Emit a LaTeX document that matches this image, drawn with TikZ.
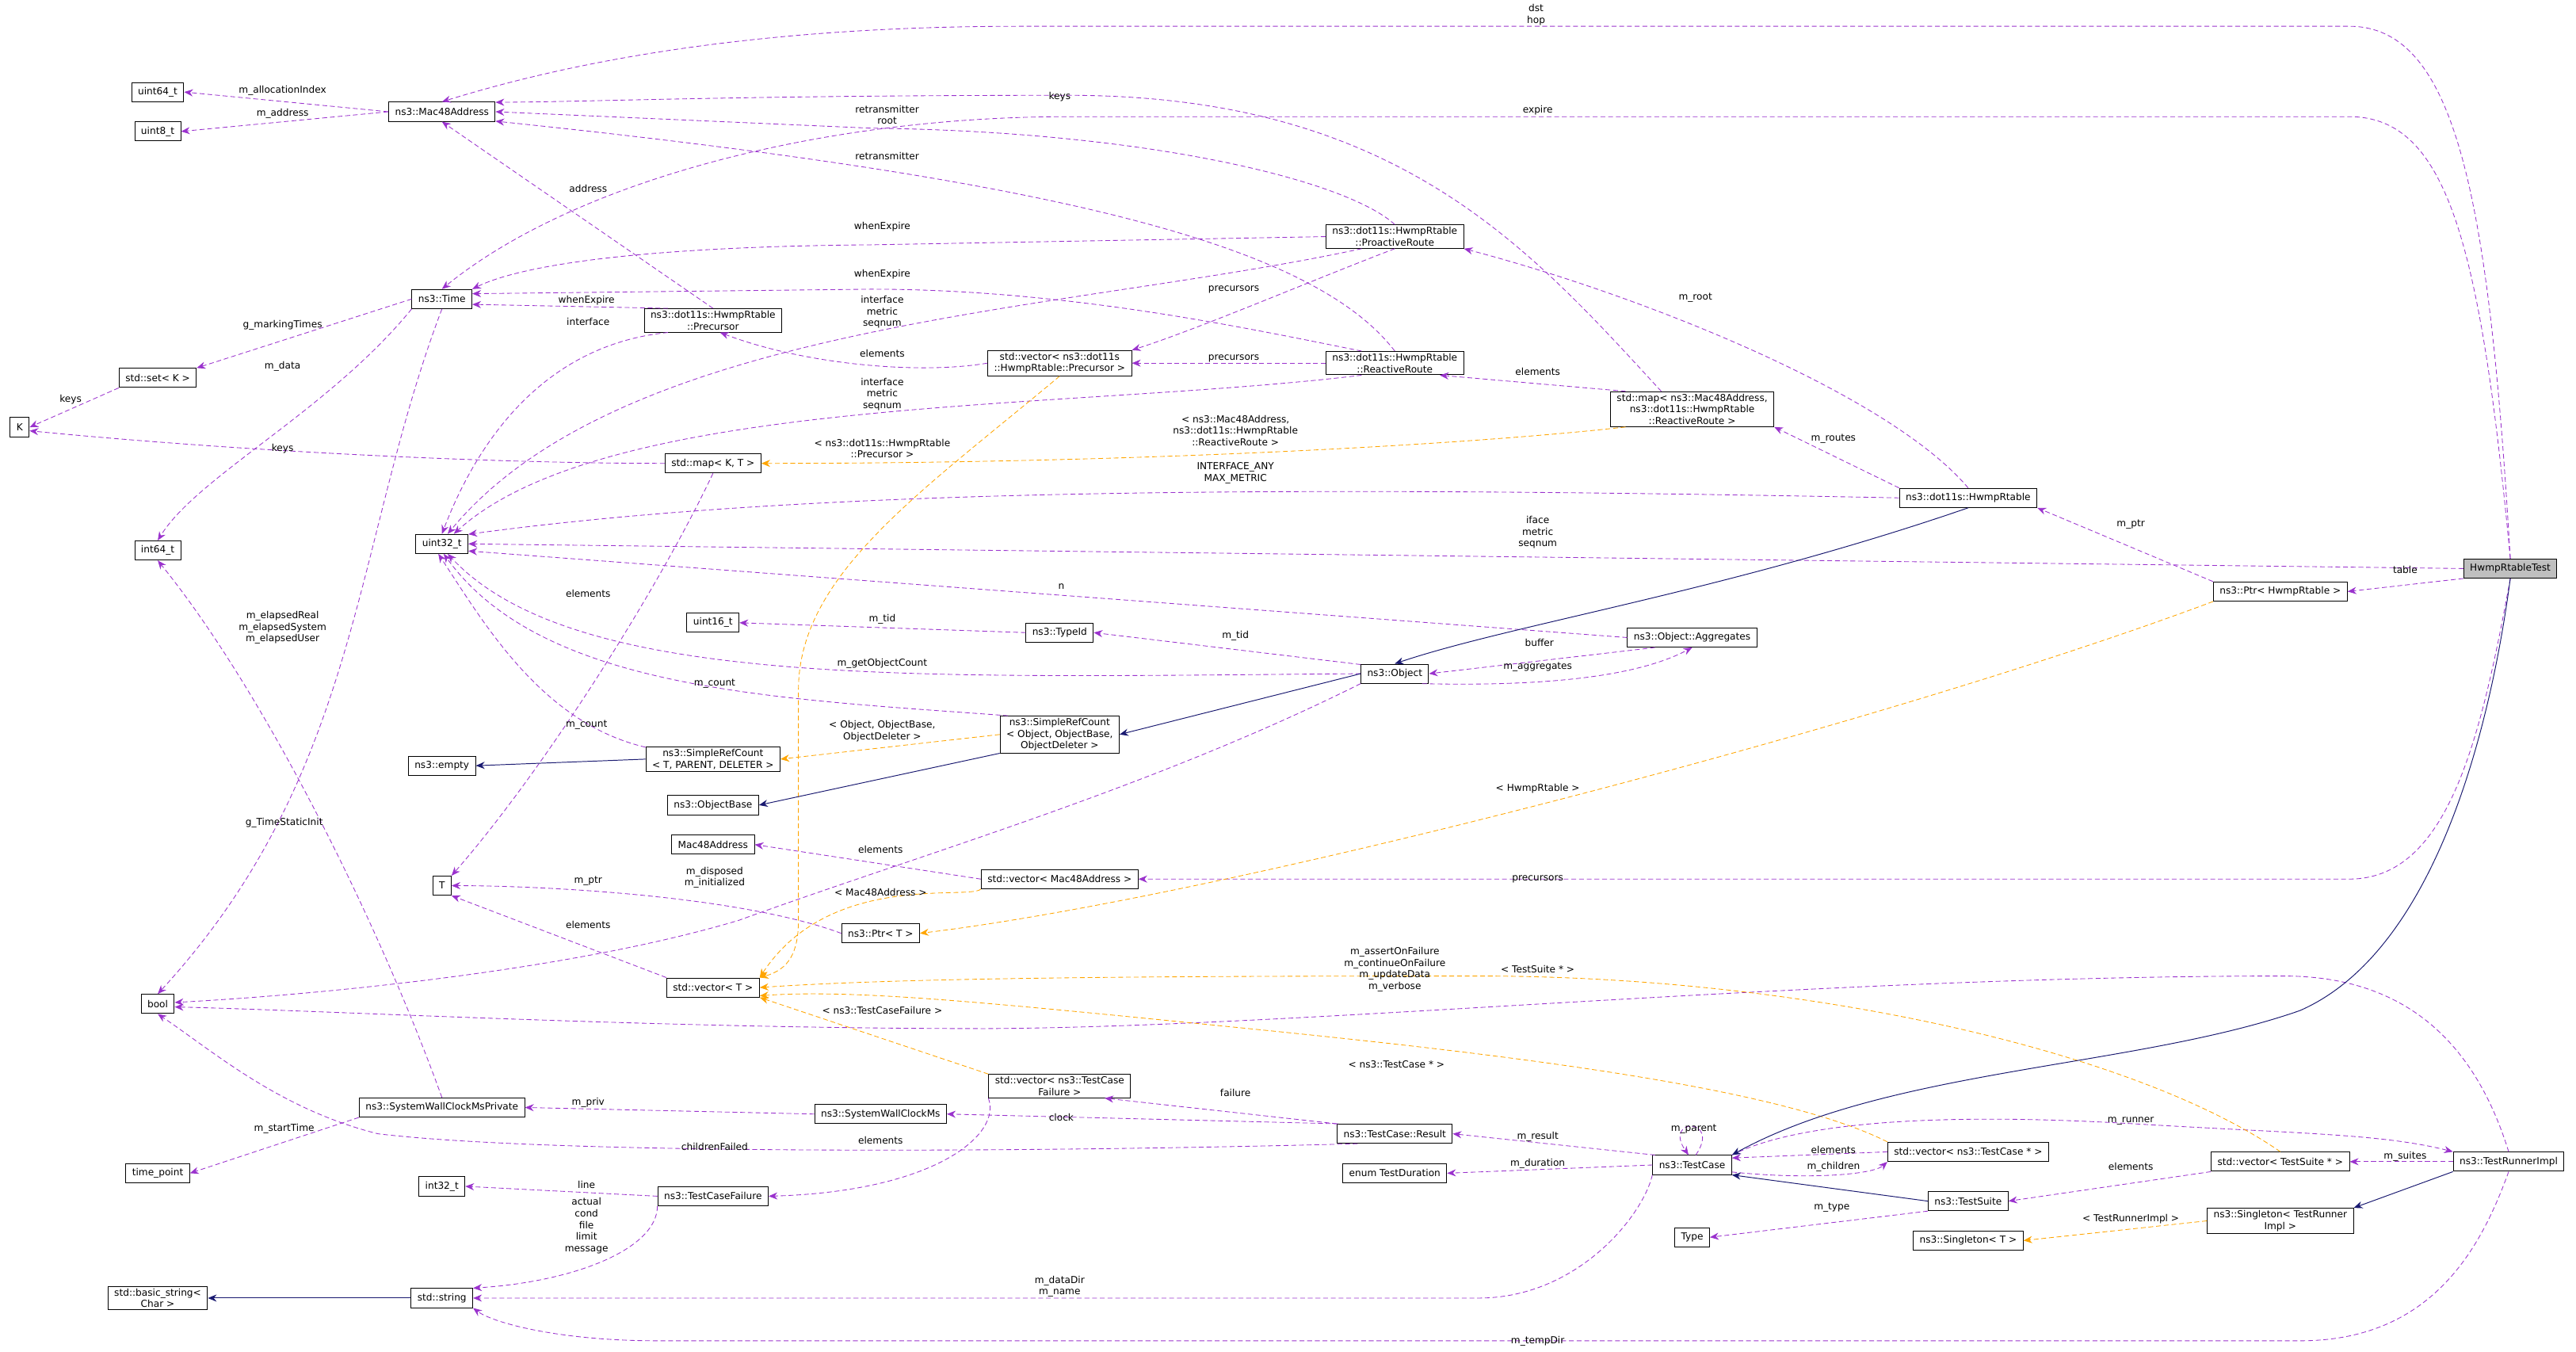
\documentclass[tikz,border=0pt]{standalone}
\usepackage{fontspec}
\setmainfont{DejaVu Sans}
\usetikzlibrary{arrows.meta}
\definecolor{mp}{HTML}{9A32CD}
\definecolor{og}{HTML}{FFA500}
\definecolor{nv}{HTML}{191970}
\begin{document}
\begin{tikzpicture}[x=0.6mm,y=-0.6mm,
  box/.style={draw=black,line width=0.8pt,fill=white,inner xsep=2.3mm,inner ysep=0.8mm,minimum height=7mm,align=center,font=\fontsize{10}{12}\selectfont},
  lbl/.style={inner sep=0pt,align=center,font=\fontsize{10}{12}\selectfont},
  mem/.style={draw=mp,dashed,line width=0.7pt,dash pattern=on 5pt off 3pt,-{Stealth[length=3.2mm,width=2.6mm]}},
  tmpl/.style={draw=og,dashed,line width=0.7pt,dash pattern=on 5pt off 3pt,-{Stealth[length=3.2mm,width=2.6mm]}},
  inh/.style={draw=nv,line width=0.8pt,-{Stealth[length=3.2mm,width=2.6mm]}}]
\useasboundingbox (0,0) rectangle (1568,822.4);
% nodes
\node[box] (u64) at (96,56) {uint64\_t};
\node[box] (u8) at (96,80) {uint8\_t};
\node[box] (mac) at (269,68) {ns3::Mac48Address};
\node[box] (time) at (269,182) {ns3::Time};
\node[box] (prec) at (434,195) {ns3::dot11s::HwmpRtable\\::Precursor};
\node[box] (set) at (96,230) {std::set< K >};
\node[box] (K) at (12,260) {K};
\node[box] (mapkt) at (434,282) {std::map< K, T >};
\node[box] (i64) at (96,335) {int64\_t};
\node[box] (u32) at (269,331) {uint32\_t};
\node[box] (u16) at (434,379) {uint16\_t};
\node[box] (empty) at (269,466) {ns3::empty};
\node[box] (srct) at (434,462) {ns3::SimpleRefCount\\< T, PARENT, DELETER >};
\node[box] (objbase) at (434,490) {ns3::ObjectBase};
\node[box] (macb) at (434,514) {Mac48Address};
\node[box] (T) at (269,539) {T};
\node[box] (vecT) at (434,601) {std::vector< T >};
\node[box] (bool) at (96,611) {bool};
\node[box] (swcmp) at (269,674) {ns3::SystemWallClockMsPrivate};
\node[box] (tp) at (96,714) {time\_point};
\node[box] (i32) at (269,722) {int32\_t};
\node[box] (tcf) at (434,728) {ns3::TestCaseFailure};
\node[box] (basic) at (96,790) {std::basic\_string<\\Char >};
\node[box] (str) at (269,790) {std::string};
\node[box] (typeid) at (645,385) {ns3::TypeId};
\node[box] (srcobj) at (645,447) {ns3::SimpleRefCount\\< Object, ObjectBase,\\ObjectDeleter >};
\node[box] (vecprec) at (645,221) {std::vector< ns3::dot11s\\::HwmpRtable::Precursor >};
\node[box] (vecmac) at (645,535) {std::vector< Mac48Address >};
\node[box] (ptrT) at (536,568) {ns3::Ptr< T >};
\node[box] (vectcf) at (645,661) {std::vector< ns3::TestCase\\Failure >};
\node[box] (swcm) at (536,678) {ns3::SystemWallClockMs};
\node[box] (pro) at (849,144) {ns3::dot11s::HwmpRtable\\::ProactiveRoute};
\node[box] (rr) at (849,221) {ns3::dot11s::HwmpRtable\\::ReactiveRoute};
\node[box] (obj) at (849,410) {ns3::Object};
\node[box] (result) at (849,690) {ns3::TestCase::Result};
\node[box] (enum) at (849,714) {enum TestDuration};
\node[box] (mapmr) at (1030,249) {std::map< ns3::Mac48Address,\\ns3::dot11s::HwmpRtable\\::ReactiveRoute >};
\node[box] (agg) at (1030,388) {ns3::Object::Aggregates};
\node[box] (tc) at (1030,709) {ns3::TestCase};
\node[box] (type) at (1030,753) {Type};
\node[box] (hwmp) at (1198,303) {ns3::dot11s::HwmpRtable};
\node[box] (vectc) at (1198,701) {std::vector< ns3::TestCase * >};
\node[box] (ts) at (1198,731) {ns3::TestSuite};
\node[box] (singT) at (1198,755) {ns3::Singleton< T >};
\node[box] (ptrhr) at (1388,360) {ns3::Ptr< HwmpRtable >};
\node[box] (vects) at (1388,707) {std::vector< TestSuite * >};
\node[box] (singtr) at (1388,743) {ns3::Singleton< TestRunner\\Impl >};
\node[box,fill=black!25] (test) at (1528,346) {HwmpRtableTest};
\node[box] (runner) at (1527,707) {ns3::TestRunnerImpl};
% member edges
\draw[mem] (mac.west) -- (u64.east);
\draw[mem] (mac.west) -- (u8.east);
\draw[mem] (test.north) .. controls (1515,120) and (1495,16) .. (1430,16) -- (620,16) .. controls (450,16) and (340,40) .. (mac.north);
\draw[mem] (test.north) .. controls (1510,150) and (1490,71) .. (1430,71) -- (650,71) .. controls (500,71) and (350,110) .. (time.north);
\draw[mem] (mapmr.150) .. controls (930,150) and (850,58) .. (650,58) .. controls (450,58) and (360,62) .. (mac.10);
\draw[mem] (pro.north) .. controls (820,110) and (700,80) .. (530,78) -- (mac.east);
\draw[mem] (rr.north) .. controls (800,150) and (650,110) .. (mac.-10);
\draw[mem] (pro.west) -- (530,149) .. controls (400,150) and (320,160) .. (time.north east);
\draw[mem] (rr.160) .. controls (760,200) and (650,176) .. (530,176) -- (time.10);
\draw[mem] (prec.165) -- (time.-10);
\draw[mem] (prec.195) .. controls (330,210) and (290,270) .. (u32.north);
\draw[mem] (prec.north) -- (mac.south);
\draw[mem] (time.west) -- (set.north east);
\draw[mem] (set.south west) -- (K.east);
\draw[mem] (mapkt.west) .. controls (300,282) and (150,275) .. (K.-20);
\draw[mem] (time.south west) .. controls (200,250) and (120,290) .. (i64.north);
\draw[mem] (time.south) .. controls (215,330) and (220,470) .. (bool.north);
\draw[mem] (swcmp.north) .. controls (230,560) and (160,420) .. (i64.south);
\draw[mem] (pro.south) .. controls (800,170) and (730,200) .. (vecprec.north east);
\draw[mem] (rr.west) -- (vecprec.east);
\draw[mem] (vecprec.west) .. controls (560,228) and (490,222) .. (prec.-60);
\draw[mem] (pro.200) .. controls (650,190) and (380,195) .. (u32.60);
\draw[mem] (rr.200) .. controls (650,250) and (370,240) .. (u32.40);
\draw[mem] (mapmr.165) -- (rr.-15);
\draw[mem] (hwmp.north) .. controls (1150,240) and (1000,180) .. (pro.south east);
\draw[mem] (hwmp.north west) -- (mapmr.south east);
\draw[mem] (hwmp.west) .. controls (800,296) and (500,296) .. (u32.20);
\draw[mem] (test.west) -- (u32.east);
\draw[mem] (agg.west) -- (u32.-15);
\draw[mem] (typeid.west) -- (u16.east);
\draw[mem] (obj.165) -- (typeid.east);
\draw[mem] (obj.180) .. controls (560,412) and (350,420) .. (u32.-60);
\draw[mem] (agg.195) -- (obj.east);
\draw[mem] (obj.-20) .. controls (950,418) and (1000,410) .. (agg.south);
\draw[mem] (srcobj.160) .. controls (470,425) and (330,420) .. (u32.-80);
\draw[mem] (srct.170) .. controls (330,440) and (295,380) .. (u32.-110);
\draw[mem] (mapkt.south) .. controls (400,360) and (330,470) .. (T.north east);
\draw[mem] (obj.south west) .. controls (700,480) and (560,520) .. (450,560) .. controls (350,590) and (200,605) .. (bool.5);
\draw[mem] (vecmac.west) -- (macb.east);
\draw[mem] (test.south) .. controls (1510,450) and (1490,535) .. (1430,535) -- (vecmac.east);
\draw[mem] (ptrT.west) .. controls (450,545) and (330,539) .. (T.east);
\draw[mem] (vecT.north west) -- (T.south east);
\draw[mem] (runner.north) .. controls (1505,630) and (1460,594) .. (1390,594) .. controls (1100,594) and (800,625) .. (600,626) .. controls (400,626) and (200,615) .. (bool.-10);
\draw[mem] (swcmp.south west) -- (tp.east);
\draw[mem] (swcm.west) -- (swcmp.east);
\draw[mem] (result.195) .. controls (600,702) and (330,702) .. (230,690) .. controls (170,675) and (130,640) .. (bool.south);
\draw[mem] (result.170) -- (swcm.east);
\draw[mem] (result.north west) -- (vectcf.-15);
\draw[mem] (vectcf.south west) .. controls (610,690) and (570,725) .. (tcf.east);
\draw[mem] (tcf.west) -- (i32.east);
\draw[mem] (tcf.south west) .. controls (400,760) and (350,780) .. (str.north east);
\draw[mem] (tc.south west) .. controls (1000,740) and (960,790) .. (900,790) -- (str.east);
\draw[mem] (runner.south) .. controls (1510,760) and (1480,816) .. (1400,816) -- (400,816) .. controls (340,816) and (300,805) .. (str.south east);
\draw[mem] (tc.165) -- (result.east);
\draw[mem] (tc.west) -- (enum.east);
\draw[mem] (tc.70) .. controls (1048,680) and (1012,680) .. (tc.110);
\draw[mem] (tc.north east) .. controls (1100,680) and (1200,678) .. (1300,684) .. controls (1400,690) and (1450,690) .. (runner.north west);
\draw[mem] (vectc.west) -- (tc.10);
\draw[mem] (tc.-10) .. controls (1100,718) and (1140,715) .. (vectc.south west);
\draw[mem] (vects.south west) -- (ts.east);
\draw[mem] (runner.west) -- (vects.east);
\draw[mem] (ts.south west) -- (type.east);
\draw[mem] (ptrhr.north west) -- (hwmp.south east);
\draw[mem] (test.south west) -- (ptrhr.east);
% template edges
\draw[tmpl] (vecprec.south) .. controls (560,300) and (486,350) .. (486,420) -- (486,560) .. controls (486,580) and (480,590) .. (vecT.north east);
\draw[tmpl] (mapmr.195) .. controls (900,270) and (700,282) .. (mapkt.east);
\draw[tmpl] (srcobj.west) -- (srct.east);
\draw[tmpl] (ptrhr.south west) .. controls (1150,440) and (750,545) .. (ptrT.east);
\draw[tmpl] (vecmac.south west) .. controls (590,548) and (505,530) .. (vecT.north east);
\draw[tmpl] (vectcf.north west) -- (vecT.south east);
\draw[tmpl] (vects.north) .. controls (1300,640) and (1100,594) .. (900,594) .. controls (700,594) and (550,595) .. (vecT.east);
\draw[tmpl] (vectc.north west) .. controls (1080,660) and (900,640) .. (750,625) .. controls (600,610) and (520,602) .. (vecT.-10);
\draw[tmpl] (singtr.west) -- (singT.east);
% inheritance
\draw[inh] (hwmp.south) .. controls (1050,360) and (920,380) .. (obj.north);
\draw[inh] (obj.west) -- (srcobj.east);
\draw[inh] (srcobj.south west) -- (objbase.east);
\draw[inh] (srct.west) -- (empty.east);
\draw[inh] (test.south) .. controls (1515,450) and (1480,580) .. (1400,615) .. controls (1300,650) and (1150,650) .. (tc.north east);
\draw[inh] (ts.west) -- (tc.south east);
\draw[inh] (runner.south west) -- (singtr.north east);
\draw[inh] (str.west) -- (basic.east);
% labels
\node[lbl] (l1) at (172,55) {m\_allocationIndex};
\node[lbl] (l2) at (172,69) {m\_address};
\node[lbl] (l3) at (358,115) {address};
\node[lbl] (l4) at (357,183) {whenExpire};
\node[lbl] (l5) at (358,196) {interface};
\node[lbl] (l6) at (172,198) {g\_markingTimes};
\node[lbl] (l7) at (172,223) {m\_data};
\node[lbl] (l8) at (43,243) {keys};
\node[lbl] (l9) at (172,273) {keys};
\node[lbl] (l10) at (358,361) {elements};
\node[lbl] (l11) at (172,382) {m\_elapsedReal\\m\_elapsedSystem\\m\_elapsedUser};
\node[lbl] (l12) at (935,9) {dst\\hop};
\node[lbl] (l13) at (936,67) {expire};
\node[lbl] (l14) at (645,59) {keys};
\node[lbl] (l15) at (540,70) {retransmitter\\root};
\node[lbl] (l16) at (540,95) {retransmitter};
\node[lbl] (l17) at (537,138) {whenExpire};
\node[lbl] (l18) at (537,167) {whenExpire};
\node[lbl] (l19) at (537,190) {interface\\metric\\seqnum};
\node[lbl] (l20) at (537,215) {elements};
\node[lbl] (l21) at (537,240) {interface\\metric\\seqnum};
\node[lbl] (l22) at (537,273) {< ns3::dot11s::HwmpRtable\\::Precursor >};
\node[lbl] (l23) at (751,176) {precursors};
\node[lbl] (l24) at (751,218) {precursors};
\node[lbl] (l25) at (1032,181) {m\_root};
\node[lbl] (l26) at (936,226) {elements};
\node[lbl] (l27) at (752,262) {< ns3::Mac48Address,\\ns3::dot11s::HwmpRtable\\::ReactiveRoute >};
\node[lbl] (l28) at (752,288) {INTERFACE\_ANY\\MAX\_METRIC};
\node[lbl] (l29) at (1116,267) {m\_routes};
\node[lbl] (l30) at (936,324) {iface\\metric\\seqnum};
\node[lbl] (l31) at (1297,319) {m\_ptr};
\node[lbl] (l32) at (1464,347) {table};
\node[lbl] (l33) at (646,357) {n};
\node[lbl] (l34) at (537,377) {m\_tid};
\node[lbl] (l35) at (752,387) {m\_tid};
\node[lbl] (l36) at (537,404) {m\_getObjectCount};
\node[lbl] (l37) at (937,391) {buffer};
\node[lbl] (l38) at (936,406) {m\_aggregates};
\node[lbl] (l39) at (435,416) {m\_count};
\node[lbl] (l40) at (357,441) {m\_count};
\node[lbl] (l41) at (537,445) {< Object, ObjectBase,\\ObjectDeleter >};
\node[lbl] (l42) at (936,480) {< HwmpRtable >};
\node[lbl] (l43) at (173,501) {g\_TimeStaticInit};
\node[lbl] (l44) at (536,517) {elements};
\node[lbl] (l45) at (435,534) {m\_disposed\\m\_initialized};
\node[lbl] (l46) at (358,536) {m\_ptr};
\node[lbl] (l47) at (536,543) {< Mac48Address >};
\node[lbl] (l48) at (936,535) {precursors};
\node[lbl] (l49) at (358,563) {elements};
\node[lbl] (l50) at (849,590) {m\_assertOnFailure\\m\_continueOnFailure\\m\_updateData\\m\_verbose};
\node[lbl] (l51) at (936,590) {< TestSuite * >};
\node[lbl] (l52) at (537,615) {< ns3::TestCaseFailure >};
\node[lbl] (l53) at (850,648) {< ns3::TestCase * >};
\node[lbl] (l54) at (752,665) {failure};
\node[lbl] (l55) at (358,671) {m\_priv};
\node[lbl] (l56) at (646,680) {clock};
\node[lbl] (l57) at (173,687) {m\_startTime};
\node[lbl] (l58) at (435,698) {childrenFailed};
\node[lbl] (l59) at (536,694) {elements};
\node[lbl] (l60) at (936,692) {m\_result};
\node[lbl] (l61) at (936,708) {m\_duration};
\node[lbl] (l62) at (357,721) {line};
\node[lbl] (l63) at (357,746) {actual\\cond\\file\\limit\\message};
\node[lbl] (l64) at (645,783) {m\_dataDir\\m\_name};
\node[lbl] (l65) at (936,816) {m\_tempDir};
\node[lbl] (l66) at (1031,687) {m\_parent};
\node[lbl] (l67) at (1116,700) {elements};
\node[lbl] (l68) at (1116,710) {m\_children};
\node[lbl] (l69) at (1297,682) {m\_runner};
\node[lbl] (l70) at (1297,710) {elements};
\node[lbl] (l71) at (1464,704) {m\_suites};
\node[lbl] (l72) at (1115,735) {m\_type};
\node[lbl] (l73) at (1297,742) {< TestRunnerImpl >};
\end{tikzpicture}
\end{document}
